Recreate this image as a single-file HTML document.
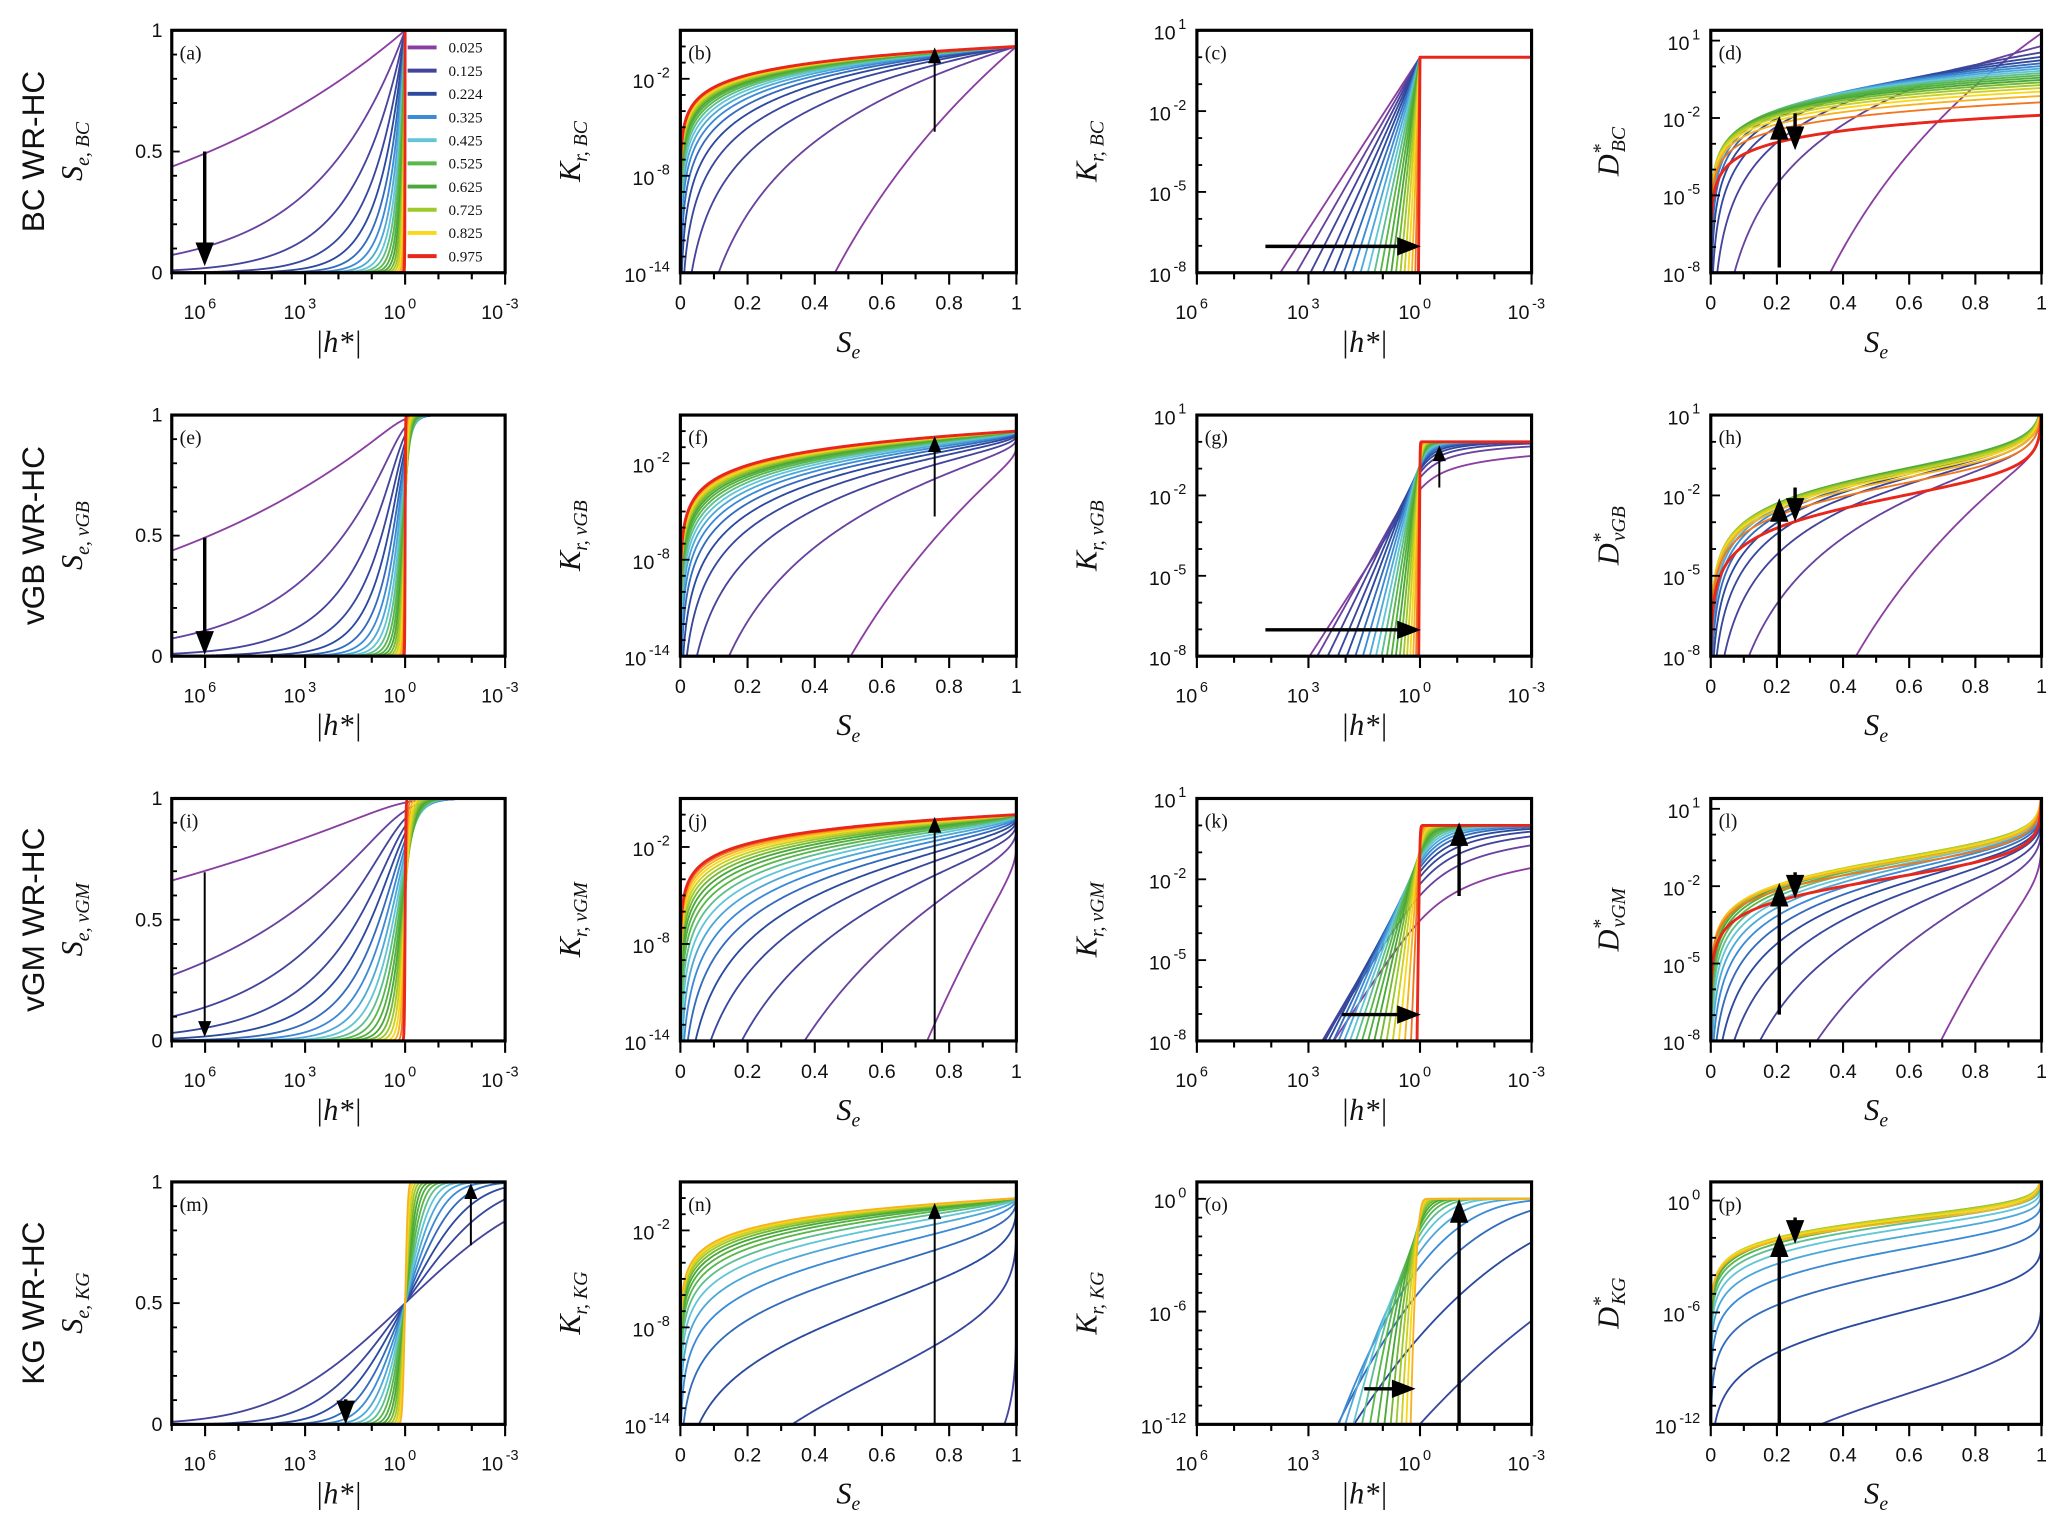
<!DOCTYPE html>
<html><head><meta charset="utf-8">
<style>
html,body{margin:0;padding:0;background:#fff;}
svg{display:block;}
text{font-family:"Liberation Sans",sans-serif;}
.ser{font-family:"Liberation Serif",serif;}
</style></head>
<body>
<svg id="fig" width="2067" height="1539" viewBox="0 0 1568 1168" xmlns="http://www.w3.org/2000/svg"></svg>
<script>
// ---- data: model parameter values (legend values) ----
const curveParams = [0.025,0.075,0.125,0.175,0.224,0.275,0.325,0.375,0.425,0.475,0.525,0.575,0.625,0.675,0.725,0.775,0.825,0.875,0.925,0.975];
const kgParams = [0.125,0.175,0.224,0.275,0.325,0.375,0.425,0.475,0.525,0.575,0.625,0.675,0.725,0.775,0.825,0.875];
const legendParams = [0.025,0.125,0.224,0.325,0.425,0.525,0.625,0.725,0.825,0.975];
const rowModels = ['BC','vGB','vGM','KG'];
const rowTitles = ['BC WR-HC','vGB WR-HC','vGM WR-HC','KG WR-HC'];
const rowSubs = ['BC','vGB','vGM','KG'];
const panelLetters = ['a','b','c','d','e','f','g','h','i','j','k','l','m','n','o','p'];
const seTicks = [0,0.2,0.4,0.6,0.8,1];
const seTickLabels = ['0','0.2','0.4','0.6','0.8','1'];
const hTicks = [6,3,0,-3];
const satTicks = [0,0.5,1];
const col2Ticks = [[-2,-8,-14],[-2,-8,-14],[-2,-8,-14],[-2,-8,-14]];
const col3Ticks = [[1,-2,-5,-8],[1,-2,-5,-8],[1,-2,-5,-8],[0,-6,-12]];
const col4Ticks = [[1,-2,-5,-8],[1,-2,-5,-8],[1,-2,-5,-8],[0,-6,-12]];
const col2Dom = [[-14,1],[-14,1],[-14,1],[-14,1]];
const col3Dom = [[-8,1],[-8,1],[-8,1],[-12,0.9]];
const col4Dom = [[-8,1.4],[-8,1],[-8,1.4],[-12,1]];

const colX = [[130,383],[516,771],[908,1162],[1298,1549]];
const rowY = [[23,207],[315,498],[606,790],[897,1081]];
const h1Dom = [7,-3], h3Dom = [6,-3];

const SVGNS = "http://www.w3.org/2000/svg";
const fig = document.getElementById('fig');
function el(tag, attrs, parent){ const e=document.createElementNS(SVGNS,tag); for(const k in attrs) e.setAttribute(k,attrs[k]); (parent||fig).appendChild(e); return e; }

const stops = [[0.025,[138,63,160]],[0.125,[68,68,156]],[0.224,[43,74,158]],[0.325,[60,139,214]],[0.425,[98,198,214]],[0.525,[90,183,74]],[0.625,[74,168,56]],[0.725,[159,200,42]],[0.825,[249,215,28]],[0.9,[245,160,32]],[0.975,[232,38,28]]];
function color(p){ for(let i=0;i<stops.length-1;i++){ const a=stops[i],b=stops[i+1]; if(p<=b[0]){ const f=Math.max(0,(p-a[0])/(b[0]-a[0])); const c=a[1].map((v,j)=>Math.round(v+(b[1][j]-v)*f)); return `rgb(${c[0]},${c[1]},${c[2]})`; } } return 'rgb(232,38,28)'; }

function sp(x){ return x>0 ? x+Math.log1p(Math.exp(-x)) : Math.log1p(Math.exp(x)); }
function lnErfcPos(z){ const t=1/(1+0.5*z); return Math.log(t) + (-z*z-1.26551223+t*(1.00002368+t*(0.37409196+t*(0.09678418+t*(-0.18628806+t*(0.27886807+t*(-1.13520398+t*(1.48851587+t*(-0.82215223+t*0.17087277))))))))); }
function lnErfc(x){ if(x>=0) return lnErfcPos(x); return Math.log(2-Math.exp(lnErfcPos(-x))); }
const LN10=Math.log(10);

function makeModel(type,p){
  if(type==='BC'){ const l=2*p/(1-p);
    return {lnSe:t=>t>0?-l*t:0, lnKr:t=>t>0?(2.5+2/l)*(-l*t):0, lnDS:t=>t>0?(-l*t)+Math.log(l):NaN}; }
  if(type==='vGB'||type==='vGM'){
    const l = type==='vGB' ? 2*p/(1-p) : p/(1-p);
    const n = type==='vGB' ? 2+l : 1+l;
    const m = type==='vGB' ? 1-2/n : 1-1/n;
    const lnSe=t=>-m*sp(n*t);
    const lnIn=t=>{ const s=sp(-n*t); if(s>1e-12) return Math.log(-Math.expm1(-m*s)); return Math.log(m)+(n*t>30?-n*t:Math.log(s)); };
    const lnKr = type==='vGB' ? (t=>2*lnSe(t)+lnIn(t)) : (t=>0.5*lnSe(t)+2*lnIn(t));
    return {lnSe, lnKr, lnDS:t=>lnSe(t)+Math.log(m*n)-sp(-n*t)};
  }
  const s=(1-p)/p, r2=Math.SQRT2;
  const lnSe=t=>lnErfc(t/(s*r2))-Math.LN2;
  return {lnSe, lnKr:t=>0.5*lnSe(t)+2*(lnErfc(t/(s*r2)+s/r2)-Math.LN2),
          lnDS:t=>-t*t/(2*s*s)-Math.log(s*Math.sqrt(2*Math.PI))};
}
function invert(mod,target){ let lo=-60,hi=6000; for(let i=0;i<70;i++){ const mid=(lo+hi)/2; if(mod.lnSe(mid)>target) lo=mid; else hi=mid; } return (lo+hi)/2; }

const NS=400, seGrid=[]; for(let k=1;k<NS;k++) seGrid.push(0.5*(1-Math.cos(Math.PI*k/NS)));
const hGrid=[]; for(let v=-3.6;v<=7.6001;v+=0.005) hGrid.push(Math.round(v*1000)/1000);

function lin(d0,d1,r0,r1){ return v=>r0+(v-d0)/(d1-d0)*(r1-r0); }

function tenLabel(x,y,exp,anchor,parent){
  const t=el('text',{x:x,y:y,'font-size':15,'text-anchor':anchor,fill:'#111'},parent);
  const a=el('tspan',{},t); a.textContent='10';
  const b=el('tspan',{dy:-8,dx:2,'font-size':11},t); b.textContent=String(exp);
  return t;
}

function drawArrow(x1,y1,x2,y2,big,parent){
  const g=el('g',{},parent);
  
  
  const dx=x2-x1, dy=y2-y1, L=Math.hypot(dx,dy), ux=dx/L, uy=dy/L;
  const hl=big?18:12, hw=big?7:5;
  el('line',{x1:x1,y1:y1,x2:x2-ux*hl*0.8,y2:y2-uy*hl*0.8,stroke:'#000','stroke-width':big?2.6:1.5},g);
  const bx=x2-ux*hl, by=y2-uy*hl;
  el('polygon',{points:`${x2},${y2} ${bx-uy*hw},${by+ux*hw} ${bx+uy*hw},${by-ux*hw}`,fill:'#000'},g);
}

function path(pts){ let d='',pen=false; for(const [x,y] of pts){ if(!isFinite(x)||!isFinite(y)){pen=false;continue;} d+=(pen?'L':'M')+x.toFixed(2)+' '+y.toFixed(2); pen=true; } return d; }

function frame(g,x0,x1,y0,y1){
  el('rect',{x:x0,y:y0,width:x1-x0,height:y1-y0,fill:'none',stroke:'#000','stroke-width':2.4},g);
}

const arrowsByPanel = [
  [[155,115,155,202,1]], [[709,100,709,36,0]], [[960,187,1078,187,1]], [[1350,203,1350,88,1],[1362,86,1362,114,1]],
  [[155,408,155,497,1]], [[709,392,709,331,0]], [[960,478,1078,478,1],[1092,370,1092,338,0]], [[1350,498,1350,378,1],[1362,370,1362,396,1]],
  [[155,662,155,787,0]], [[709,790,709,620,0]], [[1018,770,1078,770,1],[1107,680,1107,624,1]], [[1350,770,1350,670,1],[1362,662,1362,682,1]],
  [[262,1062,262,1081,1],[357,945,357,898,0]], [[709,1081,709,913,0]], [[1035,1054,1074,1054,1],[1107,1081,1107,910,1]], [[1350,1081,1350,936,1],[1362,924,1362,944,1]]
];

rowModels.forEach((type,ri)=>{
  const [y0,y1]=rowY[ri];
  const params = type==='KG' ? kgParams : curveParams;
  const rt=el('text',{x:0,y:0,'font-size':24,'text-anchor':'middle',transform:`translate(33,${(y0+y1)/2}) rotate(-90)`,fill:'#111'});
  
  
  rt.textContent=rowTitles[ri];

  const curves = params.map(p=>{
    const mod=makeModel(type,p);
    const hp=hGrid.map(lh=>{ const t=lh*LN10; return [lh, Math.exp(mod.lnSe(t)), mod.lnKr(t)/LN10]; });
    const sp_=seGrid.map(se=>{ const t=invert(mod,Math.log(se)); const lk=mod.lnKr(t); return [se, lk/LN10, (lk+t-mod.lnDS(t))/LN10]; });
    return {p, hp, sp:sp_};
  });

  for(let ci=0;ci<4;ci++){
    const [x0,x1]=colX[ci];
    const idx=ri*4+ci;
    const g=el('g',{});
    
    
    const cid='clip'+idx;
    const cp=el('clipPath',{id:cid},g); el('rect',{x:x0,y:y0,width:x1-x0,height:y1-y0},cp);
    let xs, ys, dom;
    if(ci===0){ xs=lin(h1Dom[0],h1Dom[1],x0,x1); ys=lin(0,1,y1,y0); dom=[0,1]; }
    if(ci===1){ xs=lin(0,1,x0,x1); dom=col2Dom[ri]; ys=lin(dom[0],dom[1],y1,y0); }
    if(ci===2){ xs=lin(h3Dom[0],h3Dom[1],x0,x1); dom=col3Dom[ri]; ys=lin(dom[0],dom[1],y1,y0); }
    if(ci===3){ xs=lin(0,1,x0,x1); dom=col4Dom[ri]; ys=lin(dom[0],dom[1],y1,y0); }
    const clampY=v=>Math.max(dom[0]-3,Math.min(dom[1]+3,v));
    const cg=el('g',{'clip-path':`url(#${cid})`},g);
    curves.forEach(c=>{
      let pts;
      if(ci===0) pts=c.hp.map(q=>[xs(q[0]),ys(q[1])]);
      if(ci===1) pts=c.sp.map(q=>[xs(q[0]),ys(clampY(q[1]))]);
      if(ci===2) pts=c.hp.map(q=>[xs(q[0]),ys(clampY(q[2]))]);
      if(ci===3) pts=c.sp.map(q=>[xs(q[0]),ys(clampY(q[2]))]);
      const pe=el('path',{d:path(pts),fill:'none',stroke:color(c.p),'stroke-width':c.p>0.95?2.2:1.4,'stroke-linejoin':'round'},cg);
      
      
    });
    const tg=el('g',{},g);
    
    
    if(ci===0||ci===2){
      const hd = ci===0?h1Dom:h3Dom;
      for(let v=Math.floor(hd[0]);v>=hd[1];v--){ const X=xs(v); if(X<x0-0.5||X>x1+0.5) continue; const major=hTicks.includes(v); el('line',{x1:X,x2:X,y1:y1,y2:y1+(major?9:5),stroke:'#000','stroke-width':1.6},tg); }
      hTicks.forEach(v=>{ const X=xs(v); tenLabel(X-4,y1+35,v,'middle',tg); });
    } else {
      for(let v=0;v<=10;v++){ const X=xs(v/10); el('line',{x1:X,x2:X,y1:y1,y2:y1+(v%2===0?9:5),stroke:'#000','stroke-width':1.6},tg); }
      seTicks.forEach((v,i)=>{ const t=el('text',{x:xs(v),y:y1+28,'font-size':15,'text-anchor':'middle',fill:'#111'},tg); t.textContent=seTickLabels[i]; });
    }
    if(ci===0){
      for(let v=0;v<=10;v++){ const Y=ys(v/10); el('line',{x1:x0,x2:x0+(v%5===0?6:4),y1:Y,y2:Y,stroke:'#000','stroke-width':1.4},tg); }
      satTicks.forEach(v=>{ const t=el('text',{x:x0-7,y:ys(v)+5,'font-size':15,'text-anchor':'end',fill:'#111'},tg); t.textContent=String(v); });
    } else {
      const ticks = ci===1?col2Ticks[ri]:(ci===2?col3Ticks[ri]:col4Ticks[ri]);
      for(let v=Math.ceil(dom[0]);v<=dom[1];v++){ const Y=ys(v); el('line',{x1:x0,x2:x0+(ticks.includes(v)?7:4),y1:Y,y2:Y,stroke:'#000','stroke-width':1.4},tg); }
      ticks.forEach(v=>{ tenLabel(x0-8,ys(v)+7,v,'end',tg); });
    }
    frame(g,x0,x1,y0,y1);
    const pl=el('text',{x:x0+6,y:y0+22,'font-size':15,fill:'#111','class':'ser'},g);
    
    
    pl.textContent='('+panelLetters[idx]+')';
    const xt=el('text',{x:(x0+x1)/2,y:y1+60,'font-size':23,'text-anchor':'middle','font-style':'italic','class':'ser',fill:'#111'},g);
    
    
    if(ci===0||ci===2){ xt.textContent='|h*|'; } else { const a=el('tspan',{},xt); a.textContent='S'; const b=el('tspan',{dy:5,'font-size':15},xt); b.textContent='e'; }
    const yx=[62,440,832,1228][ci];
    const yt=el('text',{x:0,y:0,'font-size':23,'text-anchor':'middle','font-style':'italic','class':'ser',fill:'#111',transform:`translate(${yx},${(y0+y1)/2}) rotate(-90)`},g);
    
    
    const sub=rowSubs[ri];
    if(ci===0){ const a=el('tspan',{},yt); a.textContent='S'; const b=el('tspan',{dy:5,'font-size':15},yt); b.textContent='e, '+sub; }
    else if(ci<3){ const a=el('tspan',{},yt); a.textContent='K'; const b=el('tspan',{dy:5,'font-size':15},yt); b.textContent='r, '+sub; }
    else { const a=el('tspan',{},yt); a.textContent='D'; const s=el('tspan',{dy:-9,'font-size':15},yt); s.textContent='*'; const b=el('tspan',{dy:14,dx:-6,'font-size':15},yt); b.textContent=sub; }
    arrowsByPanel[idx].forEach(a=>drawArrow(a[0],a[1],a[2],a[3],a[4],g));
  }
});

const lg=el('g',{});


legendParams.forEach((p,i)=>{
  const y=36+i*17.6;
  const e=el('g',{},lg);
  
  
  el('line',{x1:309,x2:331,y1:y,y2:y,stroke:color(p),'stroke-width':3},e);
  const t=el('text',{x:340,y:y+4,'font-size':11.5,fill:'#111','class':'ser'},e);
  t.textContent=p.toFixed(3);
});
</script>
</body></html>
